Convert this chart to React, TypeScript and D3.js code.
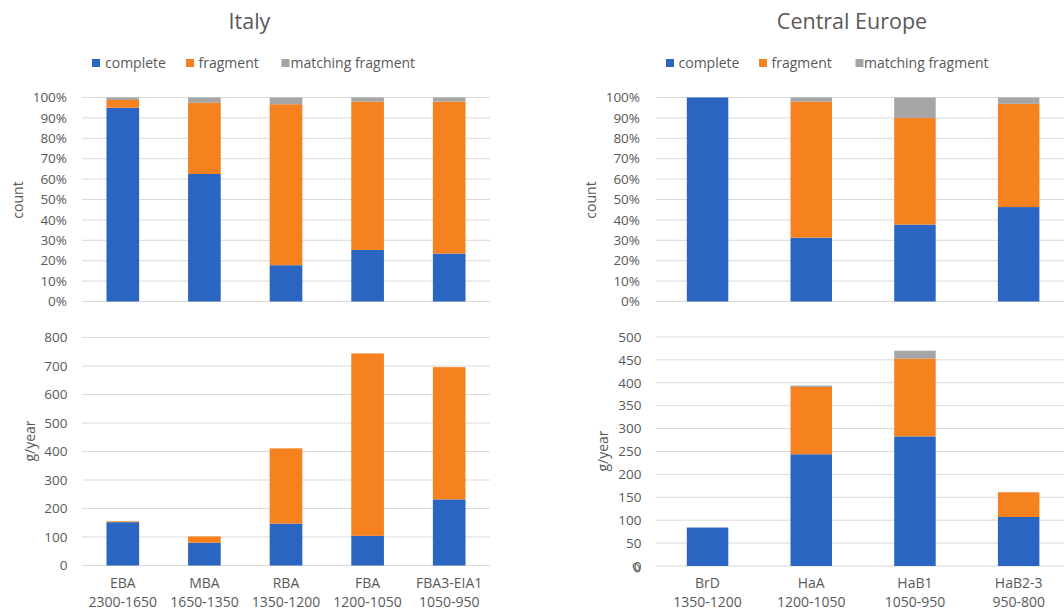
import React from "react";
import * as d3 from "d3";

const italyCats = ["EBA\n2300-1650", "MBA\n1650-1350", "RBA\n1350-1200", "FBA\n1200-1050", "FBA3-EIA1\n1050-950"];
const italyCountComplete = [95, 62.5, 17.8, 25.3, 23.5];
const italyCountFragment = [3.8, 34.9, 78.9, 72.7, 74.5];
const italyCountMatching = [1.2, 2.6, 3.3, 2, 2];
const italyWeightComplete = [152, 80, 147, 104, 232];
const italyWeightFragment = [3, 22, 264, 640, 464];
const italyWeightMatching = [0, 0, 0, 0, 0];

const ceCats = ["BrD\n1350-1200", "HaA\n1200-1050", "HaB1\n1050-950", "HaB2-3\n950-800"];
const ceCountComplete = [100, 31.3, 37.7, 46.3];
const ceCountFragment = [0, 66.7, 52.3, 50.6];
const ceCountMatching = [0, 2, 10, 3.1];
const ceWeightComplete = [84, 244, 283, 107];
const ceWeightFragment = [0, 147, 170, 54];
const ceWeightMatching = [0, 3, 17, 0];

const seriesNames = ["complete", "fragment", "matching fragment"];
const colors = ["#2A66C1", "#F5811F", "#A5A5A5"];
const pctTicks = [0, 10, 20, 30, 40, 50, 60, 70, 80, 90, 100];
const italyWeightTicks = [0, 100, 200, 300, 400, 500, 600, 700, 800];
const ceWeightTicks = [0, 50, 100, 150, 200, 250, 300, 350, 400, 450, 500];

const FONT = "'Open Sans', 'Noto Sans', sans-serif";
const TXT = "#595959";
const GRID = "#D9D9D9";

type PanelProps = {
  cats: string[];
  series: number[][];
  x0: number;
  x1: number;
  y0: number;
  y1: number;
  max: number;
  ticks: number[];
  fmt: (v: number) => string;
  labelX: number;
  title: string;
  titleX: number;
  titleY: number;
  showCats: boolean;
  doubleZero?: boolean;
};

function Panel(p: PanelProps) {
  const x = d3.scaleBand<string>().domain(p.cats).range([p.x0, p.x1]).paddingInner(0).paddingOuter(0);
  const y = d3.scaleLinear().domain([0, p.max]).range([p.y1, p.y0]);
  const rows = p.cats.map((c, i) => {
    const r: any = { cat: c };
    seriesNames.forEach((s, k) => (r[s] = p.series[k][i]));
    return r;
  });
  const stacked = d3.stack<any>().keys(seriesNames)(rows);
  const bw = x.bandwidth() * 0.4;
  return (
    <g>
      {p.ticks.map((t) => (
        <g key={t}>
          <line x1={p.x0} x2={p.x1} y1={y(t)} y2={y(t)} stroke={GRID} strokeWidth={1} />
          <text x={p.labelX} y={y(t)} dy="0.35em" textAnchor="end" fontSize={13.5} fill={TXT} fontFamily={FONT}>
            {p.fmt(t)}
          </text>
          {p.doubleZero && t === 0 ? (
            <text x={p.labelX - 1} y={y(t) + 2} dy="0.35em" textAnchor="end" fontSize={13.5} fill={TXT} fontFamily={FONT}
              transform={`rotate(-25 ${p.labelX - 5} ${y(t) + 2})`}>
              0
            </text>
          ) : null}
        </g>
      ))}
      {stacked.map((layer, k) => (
        <g key={k} fill={colors[k]}>
          {layer.map((d, i) => {
            const h = y(d[0]) - y(d[1]);
            if (h <= 0) return null;
            return (
              <rect key={i} x={(x(rows[i].cat) as number) + (x.bandwidth() - bw) / 2} y={y(d[1])} width={bw} height={h} />
            );
          })}
        </g>
      ))}
      <text
        transform={`translate(${p.titleX},${p.titleY}) rotate(-90)`}
        textAnchor="middle"
        dy="0.35em"
        fontSize={14}
        fill={TXT}
        fontFamily={FONT}
      >
        {p.title}
      </text>
      {p.showCats &&
        p.cats.map((c) => {
          const [a, b] = c.split("\n");
          const cx = (x(c) as number) + x.bandwidth() / 2;
          return (
            <text key={c} x={cx} textAnchor="middle" fontSize={14} fill={TXT} fontFamily={FONT}>
              <tspan x={cx} y={587.5}>{a}</tspan>
              <tspan x={cx} y={607}>{b}</tspan>
            </text>
          );
        })}
    </g>
  );
}

function Legend({ items }: { items: { sx: number; tx: number }[] }) {
  return (
    <g>
      {items.map((it, k) => (
        <g key={k}>
          <rect x={it.sx} y={59} width={8} height={8} fill={colors[k]} />
          <text x={it.tx} y={68} fontSize={14} fill={TXT} fontFamily={FONT}>
            {seriesNames[k]}
          </text>
        </g>
      ))}
    </g>
  );
}

export default function App() {
  const pct = (v: number) => `${v}%`;
  const num = (v: number) => `${v}`;
  return (
    <svg width={1064} height={611} style={{ position: "absolute", left: 0, top: 0, background: "#fff" }}>
      <rect width={1064} height={611} fill="#fff" />
      <text x={249.5} y={29} textAnchor="middle" fontSize={21.5} fill={TXT} fontFamily={FONT}>Italy</text>
      <text x={852} y={29} textAnchor="middle" fontSize={21.5} fill={TXT} fontFamily={FONT}>Central Europe</text>
      <Legend items={[{ sx: 92, tx: 105 }, { sx: 186, tx: 198.5 }, { sx: 281.5, tx: 290.5 }]} />
      <Legend items={[{ sx: 666, tx: 678.5 }, { sx: 759, tx: 771.5 }, { sx: 855.5, tx: 864 }]} />
      <Panel cats={italyCats} series={[italyCountComplete, italyCountFragment, italyCountMatching]}
        x0={82} x1={490} y0={97.5} y1={301.5} max={100} ticks={pctTicks} fmt={pct} labelX={67}
        title="count" titleX={18.5} titleY={200} showCats={false} />
      <Panel cats={italyCats} series={[italyWeightComplete, italyWeightFragment, italyWeightMatching]}
        x0={82} x1={490} y0={337.5} y1={565.5} max={800} ticks={italyWeightTicks} fmt={num} labelX={67.5}
        title="g/year" titleX={30} titleY={441} showCats={true} />
      <Panel cats={ceCats} series={[ceCountComplete, ceCountFragment, ceCountMatching]}
        x0={655.7} x1={1070.5} y0={97.5} y1={301.5} max={100} ticks={pctTicks} fmt={pct} labelX={640}
        title="count" titleX={591} titleY={200} showCats={false} />
      <Panel cats={ceCats} series={[ceWeightComplete, ceWeightFragment, ceWeightMatching]}
        x0={655.7} x1={1070.5} y0={337} y1={566} max={500} ticks={ceWeightTicks} fmt={num} labelX={641.5}
        title="g/year" titleX={603} titleY={451} showCats={true} doubleZero={true} />
    </svg>
  );
}
